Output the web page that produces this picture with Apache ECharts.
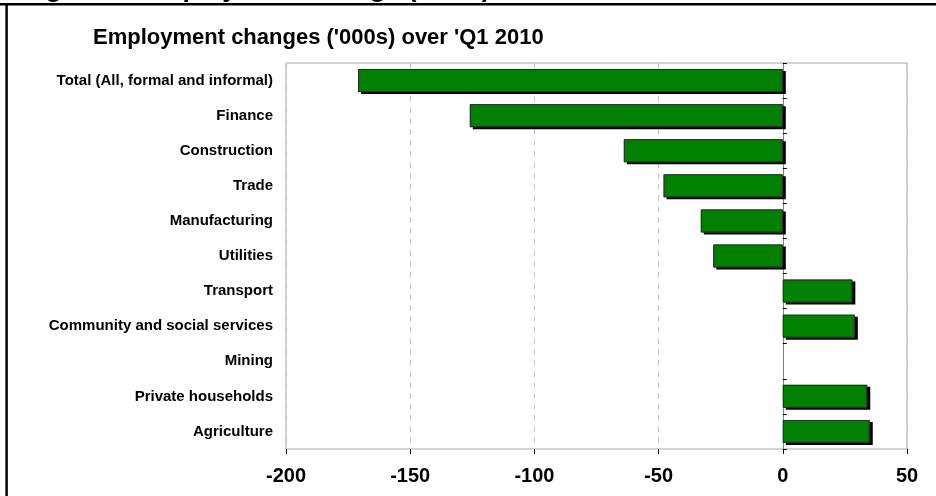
<!DOCTYPE html>
<html>
<head>
    <meta charset="utf-8">
    <title>Employment changes</title>
    <script src="https://cdn.jsdelivr.net/npm/echarts@6.0.0/dist/echarts.min.js"></script>
    <style>
        html, body { margin: 0; padding: 0; background: #fff; }
    </style>
</head>
<body>
<div id="main" style="width: 936px;height:496px;"></div>
<script type="text/javascript">
    // sectors, top to bottom
    var categories = ['Total (All, formal and informal)', 'Finance', 'Construction', 'Trade',
        'Manufacturing', 'Utilities', 'Transport', 'Community and social services',
        'Mining', 'Private households', 'Agriculture'];
    // change in employment, thousands
    var changes = [-171, -126, -64, -48, -33, -28, 28, 29, 0, 34, 35];
    var xTicks = [-200, -150, -100, -50, 0, 50];

    var font = 'Arial, "Liberation Sans", sans-serif';
    var myChart = echarts.init(document.getElementById('main'));

    // outline only for the bars that have a length
    var outline = changes.map(function (v) { return v === 0 ? null : v; });

    var option = {
        animation: false,
        backgroundColor: '#fff',
        title: {
            text: "Employment changes ('000s) over 'Q1 2010",
            left: 93,
            top: 27,
            padding: 0,
            textStyle: {fontFamily: font, fontSize: 22, fontWeight: 'bold', color: '#000'}
        },
        graphic: [
            // heading of the figure, cut off by the top of the picture
            {
                type: 'text', x: 22, y: -10, z: 1,
                style: {
                    text: "Figure 1: Employment change ('000s)",
                    font: 'bold 26.5px ' + font, fill: '#000', verticalAlign: 'middle'
                }
            },
            {type: 'line', shape: {x1: 0, y1: 4.3, x2: 936, y2: 4.3}, style: {stroke: '#000', lineWidth: 2.5}, z: 10},
            {type: 'line', shape: {x1: 6.6, y1: 3, x2: 6.6, y2: 496}, style: {stroke: '#000', lineWidth: 2.5}, z: 10}
        ],
        grid: {
            left: 286,
            right: 29,
            top: 63,
            bottom: 47,
            show: true,
            borderColor: '#a6a6a6',
            borderWidth: 1
        },
        xAxis: {
            type: 'value',
            min: xTicks[0],
            max: xTicks[xTicks.length - 1],
            interval: 50,
            axisLine: {onZero: false, lineStyle: {color: '#000', width: 1}},
            axisTick: {show: true, length: 5, lineStyle: {color: '#000'}},
            axisLabel: {
                margin: 17,
                fontFamily: font, fontSize: 20, fontWeight: 'bold', color: '#000'
            },
            splitLine: {show: true, lineStyle: {color: '#c8c8c8', type: [6, 5]}}
        },
        yAxis: [
            {
                type: 'category',
                data: categories,
                inverse: true,
                position: 'left',
                axisLine: {show: false, onZero: false},
                axisTick: {show: false},
                axisLabel: {margin: 13, fontFamily: font, fontSize: 15, fontWeight: 'bold', color: '#000'}
            },
            {
                // zero line with the small ticks between sectors
                type: 'category',
                data: categories,
                inverse: true,
                position: 'right',
                axisLine: {show: true, onZero: true, lineStyle: {color: '#808080', width: 1}},
                axisTick: {show: true, length: 4, lineStyle: {color: '#000'}},
                axisLabel: {show: false},
                splitLine: {show: false}
            }
        ],
        series: [
            {
                // green fill with the hard black drop shadow
                type: 'bar',
                yAxisIndex: 0,
                data: changes,
                barWidth: 23,
                barGap: '-100%',
                itemStyle: {
                    color: '#008000',
                    shadowColor: '#000',
                    shadowBlur: 0,
                    shadowOffsetX: 3,
                    shadowOffsetY: 2
                }
            },
            {
                // thin dark edge drawn on top
                type: 'bar',
                yAxisIndex: 0,
                data: outline,
                barWidth: 23,
                barGap: '-100%',
                silent: true,
                itemStyle: {
                    color: 'rgba(0,0,0,0)',
                    borderColor: '#2a2a2a',
                    borderWidth: 1
                }
            }
        ]
    };

    myChart.setOption(option);
</script>
</body>
</html>
